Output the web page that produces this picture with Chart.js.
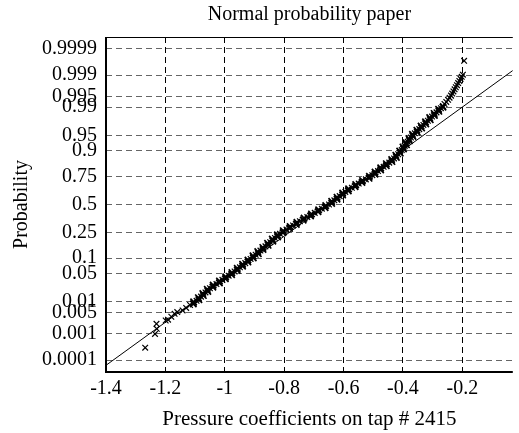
<!DOCTYPE html>
<html>
<head>
<meta charset="utf-8">
<script src="https://cdn.jsdelivr.net/npm/chart.js@4"></script>
<style>
  html, body { margin: 0; padding: 0; background: #fff; }
  #wrap { width: 519px; height: 433px; }
</style>
</head>
<body>
<div id="wrap"><canvas id="chart" width="519" height="433"></canvas></div>
<script>
// probability axis: tick positions are standard normal quantiles
const probLabels = ['0.0001', '0.001', '0.005', '0.01', '0.05', '0.1', '0.25', '0.5', '0.75', '0.9', '0.95', '0.99', '0.995', '0.999', '0.9999'];
const probTicks = [-3.719, -3.090, -2.576, -2.326, -1.645, -1.282, -0.674, 0, 0.674, 1.282, 1.645, 2.326, 2.576, 3.090, 3.719];
const xTicks = [-1.4, -1.2, -1, -0.8, -0.6, -0.4, -0.2];

// sample quantile (z) vs pressure coefficient
const sampleZ = [
  -3.42, -3.09, -2.97, -2.85, -2.77, -2.75, -2.68, -2.61, -2.57, -2.53, -2.47,
  -2.40, -2.35, -2.30, -2.25, -2.20, -2.15, -2.10, -2.05, -2.00, -1.95,
  -1.90, -1.85, -1.80, -1.75, -1.70, -1.65, -1.60, -1.55, -1.50, -1.45,
  -1.40, -1.35, -1.30, -1.25, -1.20, -1.15, -1.10, -1.05, -1.00, -0.95,
  -0.90, -0.85, -0.80, -0.75, -0.70, -0.65, -0.60, -0.55, -0.50, -0.45,
  -0.40, -0.35, -0.30, -0.25, -0.20, -0.15, -0.10, -0.05, 0.00, 0.05,
  0.10, 0.15, 0.20, 0.25, 0.30, 0.35, 0.40, 0.45, 0.50, 0.55,
  0.60, 0.65, 0.70, 0.75, 0.80, 0.85, 0.90, 0.95, 1.00, 1.05,
  1.10, 1.15, 1.20, 1.25, 1.30, 1.35, 1.40, 1.45, 1.50, 1.55,
  1.60, 1.65, 1.70, 1.75, 1.80, 1.85, 1.90, 1.95, 2.00, 2.05,
  2.10, 2.15, 2.20, 2.25, 2.30, 2.35, 2.40, 2.45, 2.50, 2.55,
  2.60, 2.65, 2.70, 2.75, 2.80, 2.85, 2.90, 2.95, 3.00, 3.05,
  3.10, 3.43
];
const sampleCp = [
  -1.268, -1.235, -1.229, -1.230, -1.199, -1.191, -1.180, -1.169, -1.160, -1.142, -1.130,
  -1.117, -1.105, -1.095, -1.088, -1.080, -1.073, -1.065, -1.058, -1.050, -1.040,
  -1.028, -1.018, -1.008, -0.997, -0.987, -0.976, -0.967, -0.958, -0.949, -0.940,
  -0.931, -0.922, -0.913, -0.904, -0.896, -0.888, -0.880, -0.871, -0.863, -0.855,
  -0.847, -0.839, -0.831, -0.823, -0.814, -0.804, -0.792, -0.781, -0.770, -0.758,
  -0.747, -0.735, -0.722, -0.710, -0.697, -0.685, -0.673, -0.661, -0.649, -0.640,
  -0.631, -0.622, -0.613, -0.603, -0.594, -0.584, -0.572, -0.560, -0.549, -0.537,
  -0.525, -0.513, -0.503, -0.494, -0.484, -0.475, -0.465, -0.456, -0.446, -0.437,
  -0.430, -0.423, -0.416, -0.410, -0.404, -0.399, -0.394, -0.389, -0.384, -0.379,
  -0.373, -0.368, -0.360, -0.353, -0.345, -0.338, -0.331, -0.324, -0.316, -0.309,
  -0.302, -0.294, -0.287, -0.279, -0.272, -0.265, -0.260, -0.254, -0.248, -0.243,
  -0.238, -0.234, -0.230, -0.226, -0.222, -0.218, -0.214, -0.210, -0.206, -0.202,
  -0.198, -0.194
];

// in-between samples of the dense band (scattered either side)
const bandZ = [
  -2.375, -2.325, -2.275, -2.225, -2.175, -2.125, -2.075, -2.025, -1.975, -1.925,
  -1.875, -1.825, -1.775, -1.725, -1.675, -1.625, -1.575, -1.525, -1.475, -1.425,
  -1.375, -1.325, -1.275, -1.225, -1.175, -1.125, -1.075, -1.025, -0.975, -0.925,
  -0.875, -0.825, -0.775, -0.725, -0.675, -0.625, -0.575, -0.525, -0.475, -0.425,
  -0.375, -0.325, -0.275, -0.225, -0.175, -0.125, -0.075, -0.025, 0.025, 0.075,
  0.125, 0.175, 0.225, 0.275, 0.325, 0.375, 0.425, 0.475, 0.525, 0.575,
  0.625, 0.675, 0.725, 0.775, 0.825, 0.875, 0.925, 0.975, 1.025, 1.075,
  1.125, 1.175, 1.225, 1.275, 1.325, 1.375, 1.425, 1.475, 1.525, 1.575,
  1.625, 1.675, 1.725, 1.775, 1.825, 1.875, 1.925, 1.975, 2.025, 2.075,
  2.125, 2.175, 2.225, 2.275, 2.325
];
const bandCp = [
  -1.106, -1.105, -1.087, -1.089, -1.072, -1.074, -1.057, -1.059, -1.040, -1.039,
  -1.018, -1.018, -0.998, -0.997, -0.977, -0.976, -0.958, -0.958, -0.940, -0.940,
  -0.922, -0.922, -0.904, -0.905, -0.887, -0.889, -0.871, -0.872, -0.854, -0.856,
  -0.838, -0.840, -0.822, -0.823, -0.804, -0.803, -0.782, -0.780, -0.759, -0.757,
  -0.736, -0.733, -0.711, -0.708, -0.686, -0.684, -0.662, -0.660, -0.640, -0.640,
  -0.622, -0.622, -0.603, -0.603, -0.584, -0.583, -0.561, -0.559, -0.538, -0.536,
  -0.514, -0.513, -0.494, -0.494, -0.475, -0.475, -0.456, -0.456, -0.437, -0.438,
  -0.422, -0.424, -0.409, -0.411, -0.398, -0.400, -0.388, -0.390, -0.378, -0.380,
  -0.366, -0.368, -0.352, -0.353, -0.337, -0.339, -0.323, -0.324, -0.308, -0.310,
  -0.294, -0.295, -0.279, -0.280, -0.265
];

// fitted normal reference line (endpoints)
const fitCp = [-1.4, -0.03];
const fitZ = [-3.84, 3.20];

const serif = 'Liberation Serif';

const frame = {
  id: 'frame',
  afterDraw(chart) {
    const { ctx, chartArea: a } = chart;
    ctx.save();
    ctx.strokeStyle = '#000';
    ctx.lineWidth = 1;
    ctx.beginPath();
    ctx.moveTo(a.left, a.top + 0.5);
    ctx.lineTo(a.right, a.top + 0.5);
    ctx.stroke();
    ctx.lineWidth = 2;
    ctx.beginPath();
    ctx.moveTo(a.left, a.top);
    ctx.lineTo(a.left, a.bottom);
    ctx.lineTo(a.right, a.bottom);
    ctx.stroke();
    ctx.restore();
  }
};

new Chart(document.getElementById('chart'), {
  type: 'scatter',
  data: {
    datasets: [
      {
        type: 'line',
        data: fitCp.map((x, i) => ({ x, y: fitZ[i] })),
        borderColor: '#000',
        borderWidth: 1,
        pointRadius: 0,
        fill: false
      },
      {
        data: sampleCp.map((x, i) => ({ x, y: sampleZ[i] })),
        pointStyle: 'crossRot',
        pointRadius: 4,
        borderColor: '#000',
        borderWidth: 1.2
      },
      {
        data: bandCp.map((x, i) => ({ x, y: bandZ[i] })),
        pointStyle: 'crossRot',
        pointRadius: 4.5,
        borderColor: '#000',
        borderWidth: 1.7
      }
    ]
  },
  options: {
    responsive: false,
    animation: false,
    layout: { padding: 0 },
    plugins: {
      legend: { display: false },
      tooltip: { enabled: false },
      title: {
        display: true,
        fullSize: false,
        text: 'Normal probability paper',
        color: '#000',
        font: { family: serif, size: 20, weight: 'normal' },
        padding: { top: 3, bottom: 10 }
      }
    },
    scales: {
      x: {
        min: -1.4,
        max: -0.03,
        afterBuildTicks: s => { s.ticks = xTicks.map(v => ({ value: v })); },
        afterFit: s => { s.height = 61; },
        ticks: {
          color: '#000',
          font: { family: serif, size: 20 },
          padding: 5,
          maxRotation: 0,
          autoSkip: false,
          callback: v => String(Math.round(v * 10) / 10)
        },
        grid: { color: '#000', lineWidth: 1, drawTicks: false },
        border: { display: false, dash: [6, 4] },
        title: {
          display: true,
          text: 'Pressure coefficients on tap # 2415',
          color: '#000',
          font: { family: serif, size: 21 },
          padding: { top: 0, bottom: 1 }
        }
      },
      y: {
        min: -4,
        max: 4,
        afterBuildTicks: s => { s.ticks = probTicks.map(v => ({ value: v })); },
        afterFit: s => { s.width = 106; },
        ticks: {
          color: '#000',
          font: { family: serif, size: 20 },
          padding: 9,
          autoSkip: false,
          callback: (v, i) => probLabels[i]
        },
        grid: { color: '#666', lineWidth: 1, drawTicks: false },
        border: { display: false, dash: [6, 4] },
        title: {
          display: true,
          text: 'Probability',
          color: '#000',
          font: { family: serif, size: 20 },
          padding: { top: 10, bottom: 0 }
        }
      }
    }
  },
  plugins: [frame]
});
</script>
</body>
</html>
